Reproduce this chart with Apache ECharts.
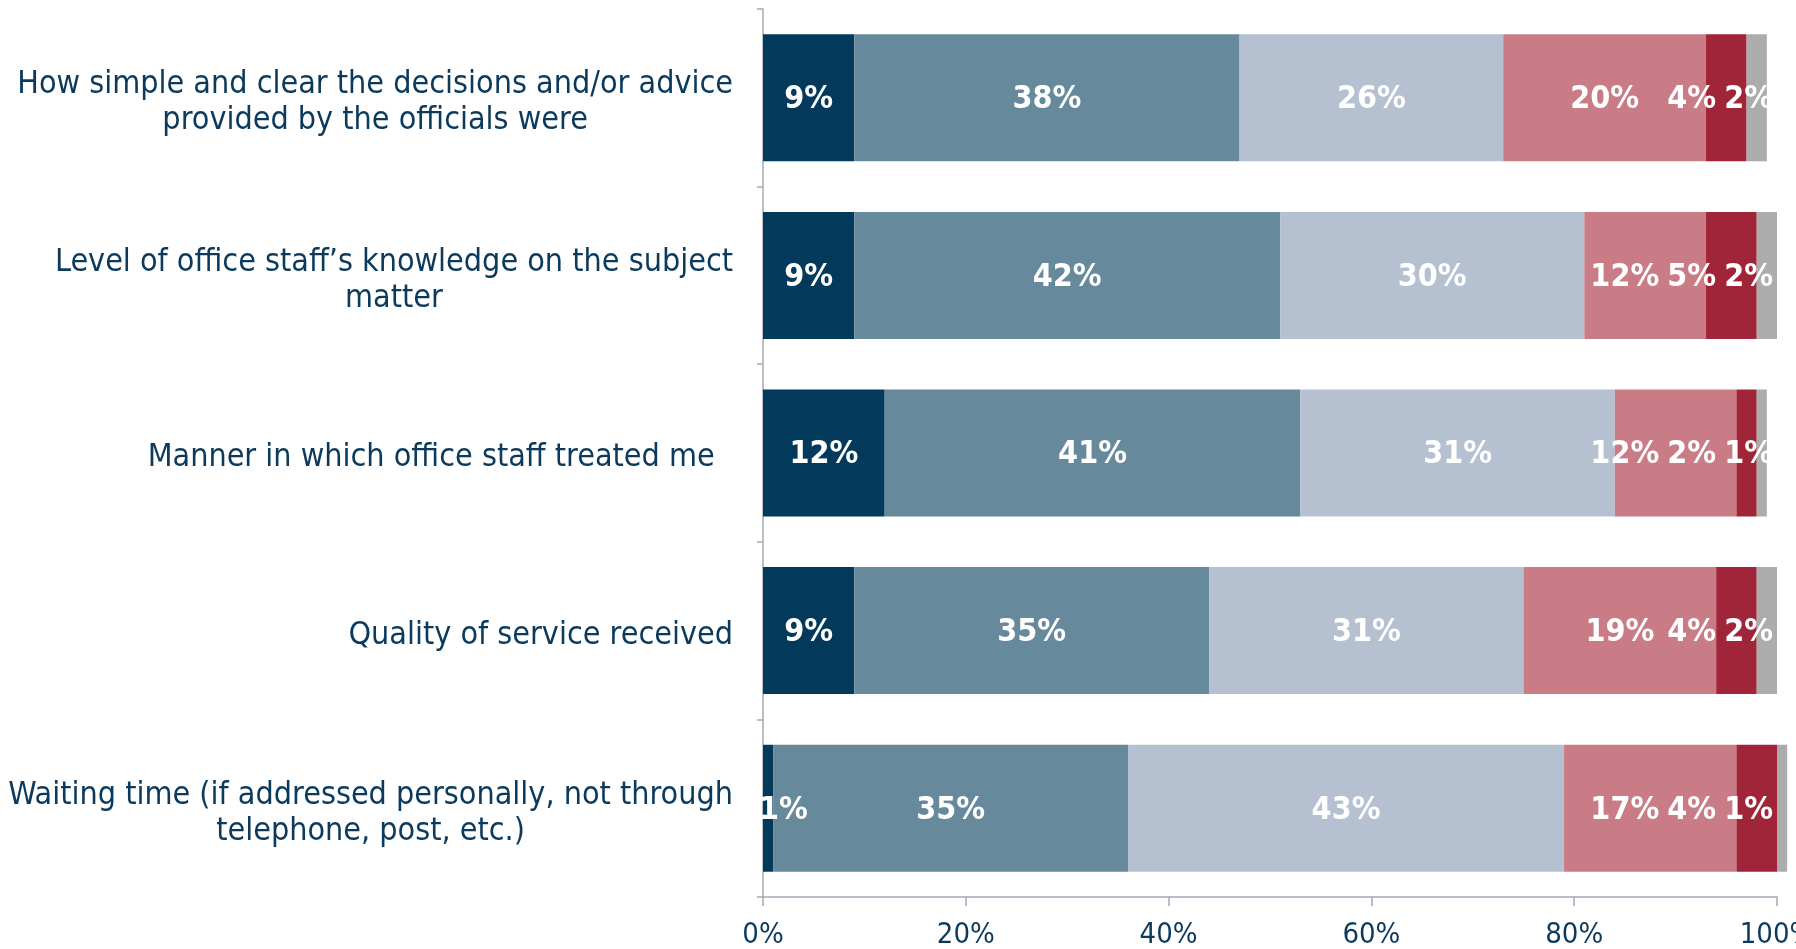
<!DOCTYPE html>
<html>
<head>
<meta charset="utf-8">
<title>Satisfaction with office services</title>
<script src="https://cdn.jsdelivr.net/npm/echarts@6/dist/echarts.min.js"></script>
<style>
  html, body { margin: 0; padding: 0; background: #ffffff; }
  #chart { width: 1796px; height: 949px; }
</style>
</head>
<body>
<div id="chart"></div>
<script>
// Aspects rated, top to bottom
const categories = [
  'How simple and clear the decisions and/or advice\nprovided by the officials were',
  'Level of office staff\u2019s knowledge on the subject\nmatter',
  'Manner in which office staff treated me  ',
  'Quality of service received',
  'Waiting time (if addressed personally, not through\ntelephone, post, etc.)'
];

// Share of answers (%) for each rating level, one value per aspect
const level1 = [9, 9, 12, 9, 1];
const level2 = [38, 42, 41, 35, 35];
const level3 = [26, 30, 31, 31, 43];
const level4 = [20, 12, 12, 19, 17];
const level5 = [4, 5, 2, 4, 4];
const level6 = [2, 2, 1, 2, 1];

// Value axis ticks
const xTicks = [0, 20, 40, 60, 80, 100];

const levels = [level1, level2, level3, level4, level5, level6];
const levelNames = ['Level 1', 'Level 2', 'Level 3', 'Level 4', 'Level 5', 'Level 6'];
const levelColors = ['#033a5b', '#67899c', '#b5c1d0', '#c97b86', '#a12538', '#acacac'];

const TEXT_COLOR = '#0b3a5c';
const AXIS_COLOR = '#a3abb6';
const FONT = '"DejaVu Sans Condensed", "DejaVu Sans", sans-serif';
const CAT_SIZE = 32;
const VALUE_SIZE = 32;
const TICK_SIZE = 29;
const GRID = { left: 763, right: 19, top: 9, bottom: 52 };
const LABEL_GAP = 8;   // min spacing between neighbouring value labels
const LABEL_EDGE = 4;  // keep labels this far inside the plot's right edge
const LABEL_START = 4; // labels may poke this far left of the plot

const chart = echarts.init(document.getElementById('chart'), null, { renderer: 'canvas' });

// Value labels that would collide are packed leftwards from the bar end,
// so every percentage stays readable on the narrow segments.
function computeLabelShifts() {
  const x0 = GRID.left;
  const x1 = chart.getWidth() - GRID.right;
  const px = v => x0 + (x1 - x0) * v / 100;
  const ctx = document.createElement('canvas').getContext('2d');
  ctx.font = 'bold ' + VALUE_SIZE + 'px ' + FONT;
  return categories.map((_, row) => {
    let acc = 0;
    const items = levels.map(vals => {
      const v = vals[row];
      const item = { c: (px(acc) + px(acc + v)) / 2, w: ctx.measureText(v + '%').width };
      acc += v;
      return item;
    });
    const centers = items.map(it => it.c);
    let bound = x1 - LABEL_EDGE;
    for (let i = items.length - 1; i >= 0; i--) {
      const it = items[i];
      const right = Math.min(it.c + it.w / 2, bound);
      centers[i] = right - it.w / 2;
      bound = right - it.w - LABEL_GAP;
    }
    // the first label should not slide off the start of the bar
    let leftBound = x0 - LABEL_START;
    for (let i = 0; i < items.length; i++) {
      const left = Math.max(centers[i] - items[i].w / 2, leftBound);
      if (left === leftBound && i > 0 && centers[i] - items[i].w / 2 >= leftBound) break;
      centers[i] = left + items[i].w / 2;
      leftBound = left + items[i].w + LABEL_GAP;
      if (i === 0 && centers[1] - items[1].w / 2 >= leftBound) break;
    }
    return centers.map((c, i) => c - items[i].c);
  });
}

const labelShifts = computeLabelShifts();

const series = levels.map((vals, si) => ({
  name: levelNames[si],
  type: 'bar',
  stack: 'total',
  clip: false,
  barCategoryGap: '28.5%',
  data: vals,
  itemStyle: { color: levelColors[si] },
  label: {
    show: true,
    position: 'inside',
    formatter: p => p.value + '%',
    color: '#ffffff',
    fontFamily: FONT,
    fontWeight: 'bold',
    fontSize: VALUE_SIZE
  },
  labelLayout: p => ({ dx: labelShifts[p.dataIndex][p.seriesIndex], dy: 2 }),
  emphasis: { disabled: true }
}));

chart.setOption({
  animation: false,
  backgroundColor: '#ffffff',
  grid: Object.assign({ containLabel: false, outerBoundsMode: 'none' }, GRID),
  xAxis: {
    type: 'value',
    min: xTicks[0],
    max: xTicks[xTicks.length - 1],
    interval: xTicks[1] - xTicks[0],
    splitLine: { show: false },
    axisLine: { show: true, lineStyle: { color: AXIS_COLOR, width: 1.5 } },
    axisTick: { show: true, length: 9, lineStyle: { color: AXIS_COLOR, width: 1.5 } },
    axisLabel: {
      formatter: v => v + '%',
      color: TEXT_COLOR,
      fontFamily: FONT,
      fontSize: TICK_SIZE,
      margin: 24
    }
  },
  yAxis: {
    type: 'category',
    inverse: true,
    data: categories,
    axisLine: { show: true, lineStyle: { color: AXIS_COLOR, width: 1.5 } },
    axisTick: { show: true, length: 6, lineStyle: { color: AXIS_COLOR, width: 1.5 } },
    axisLabel: {
      margin: 30,
      align: 'right',
      padding: [10, 0, 0, 0],
      color: TEXT_COLOR,
      fontFamily: FONT,
      fontSize: CAT_SIZE,
      lineHeight: 36,
      formatter: value => value.split('\n').map(line => '{c|' + line + '}').join('\n'),
      rich: {
        c: {
          align: 'center',
          color: TEXT_COLOR,
          fontFamily: FONT,
          fontSize: CAT_SIZE,
          lineHeight: 36
        }
      }
    }
  },
  series: series
});
</script>
</body>
</html>
